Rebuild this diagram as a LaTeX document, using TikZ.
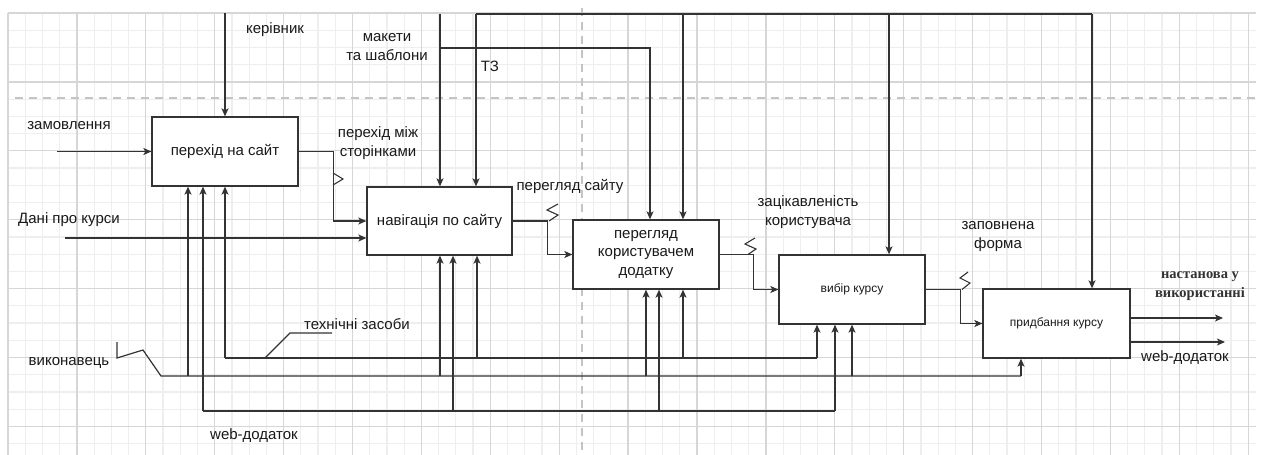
\documentclass[tikz,border=0pt]{standalone}
\usepackage{fontspec}
\setmainfont{Liberation Sans}
\newfontfamily\serifbold{Liberation Serif}
\usetikzlibrary{arrows.meta}
\definecolor{ln}{HTML}{333333}
\definecolor{txt}{HTML}{1A1A1A}
\definecolor{gmin}{HTML}{EEEEEE}
\definecolor{gmaj}{HTML}{D6D6D6}
\definecolor{dsh}{HTML}{C4C4C4}
\tikzset{
  gridminor/.style={draw=gmin, line width=1.2pt},
  gridmajor/.style={draw=gmaj, line width=1.3pt},
  guide/.style={draw=dsh, line width=2.6pt, dash pattern=on 8pt off 6pt},
  box/.style={draw=ln, line width=1.3pt, fill=white, minimum width=146pt, minimum height=69pt, inner sep=0pt, align=center, text=txt},
  conn/.style={draw=ln, line width=1.2pt},
  arr/.style={conn, -{Stealth[length=8pt,width=7pt,inset=2pt]}},
  thick arr/.style={arr, line width=1.8pt},
  lbl/.style={text=txt, inner sep=0pt, align=center},
  zig/.style={draw=ln, line width=1.1pt}
}
\begin{document}
\begin{tikzpicture}[x=1pt,y=-1pt,font=\fontsize{15}{19}\selectfont]
\useasboundingbox (0,0) rectangle (1261,455);
\fill[white] (0,0) rectangle (1261,455);
% grid
\foreach \i in {0,...,72}{\pgfmathsetmacro\xx{8+\i*17.225}\draw[gridminor] (\xx,13) -- (\xx,455);}
\foreach \j in {0,...,25}{\pgfmathsetmacro\yy{13+\j*17.225}\draw[gridminor] (8,\yy) -- (1256,\yy);}
\foreach \i in {0,...,18}{\pgfmathsetmacro\xx{8+\i*68.9}\draw[gridmajor] (\xx,13) -- (\xx,455);}
\foreach \j in {0,...,6}{\pgfmathsetmacro\yy{13+\j*68.9}\draw[gridmajor] (8,\yy) -- (1256,\yy);}
% guides
\draw[guide] (15,98) -- (1261,98);
\draw[guide] (582,8) -- (582,455);

% boxes
\node[box] (b1) at (225,151.5) {перехід на сайт};
\node[box, minimum width=145pt, minimum height=68pt] (b2) at (439.5,221) {навігація по сайту};
\node[box, font=\fontsize{15}{18.5}\selectfont] (b3) at (646,254.5) {перегляд\\користувачем\\додатку};
\node[box, font=\fontsize{12}{14}\selectfont] (b4) at (852,289.5) {вибір курсу};
\node[box, minimum width=147pt, font=\fontsize{12}{14}\selectfont] (b5) at (1056.5,323.5) {придбання курсу};

% free ends
\coordinate (k0) at (225,13);
\coordinate (z0) at (57,151.5);
\coordinate (d0) at (65,238);
\coordinate (m0) at (440,14);
\coordinate (m1) at (650,48);
\coordinate (t0) at (476,14);
\coordinate (t1) at (683,14);
\coordinate (t2) at (889,14);
\coordinate (t3) at (1092,14);
\coordinate (o1) at (1223,318);
\coordinate (o2) at (1225,342);
\coordinate (s1) at (225,358);
\coordinate (s2) at (817,358);
\coordinate (v0) at (117,342);
\coordinate (v1) at (161,376);
\coordinate (v2) at (1021,376);
\coordinate (w1) at (203,411);
\coordinate (w2) at (835,411);

% inputs
\draw[arr] (k0) -- (k0 |- b1.north);
\draw[arr] (z0) -- (b1.west);
\draw[arr] (d0) -- (d0 -| b2.west);

% flow between boxes
\draw[arr] (b1.east) -- ++(35,0) |- (b2.west);
\draw[zig] (333,173) -- (343,179) -- (333,185);
\draw[arr] (b2.east) -- ++(35,0) |- (b3.west);
\draw[zig] (558,204) -- (547,210) -- (558,215) -- (549,221);
\draw[arr] (b3.east) -- ++(34,0) |- (b4.west);
\draw[zig] (755,238) -- (745,244) -- (756,249) -- (748,254.5);
\draw[arr] (b4.east) -- ++(35,0) |- (b5.west);
\draw[zig] (968,272) -- (960,278) -- (970,283) -- (962,289.5);

% outputs
\draw[arr] (b5.east |- o1) -- (o1);
\draw[arr] (b5.east |- o2) -- (o2);

% controls
\draw[arr] (m0) -- (m0 |- b2.north);
\draw[arr] (m0 |- m1) -- (m1) -- (m1 |- b3.north);
\draw[arr] (t0) -- (t0 |- b2.north);
\draw[conn] (t0) -- (t3);
\draw[arr] (t1) -- (t1 |- b3.north);
\draw[arr] (t2) -- (t2 |- b4.north);
\draw[arr] (t3) -- (t3 |- b5.north);

% mechanisms: технічні засоби
\draw[conn] (s1) -- (s2);
\draw[arr] (s1) -- (s1 |- b1.south);
\draw[arr] (477,358) -- (477,0 |- b2.south);
\draw[arr] (683,358) -- (683,0 |- b3.south);
\draw[arr] (s2) -- (s2 |- b4.south);
\draw[conn] (265,358) -- (290,333) -- (332,333);

% mechanisms: виконавець
\draw[conn] (v0) -- (117,358) -- (143,350) -- (v1) -- (v2);
\draw[arr] (188,376) -- (188,0 |- b1.south);
\draw[arr] (440,376) -- (440,0 |- b2.south);
\draw[arr] (646,376) -- (646,0 |- b3.south);
\draw[arr] (852,376) -- (852,0 |- b4.south);
\draw[arr] (v2) -- (v2 |- b5.south);

% mechanisms: web-додаток
\draw[conn] (w1) -- (w2);
\draw[arr] (w1) -- (w1 |- b1.south);
\draw[thick arr] (453,411) -- (453,0 |- b2.south);
\draw[thick arr] (659,411) -- (659,0 |- b3.south);
\draw[arr] (w2) -- (w2 |- b4.south);

% labels
\node[lbl] (lk) at (275,30) {керівник};
\node[lbl] (lz) at (69,126) {замовлення};
\node[lbl] (ld) at (69,220) {Дані про курси};
\node[lbl] (lm) at (387,47.5) {макети\\та шаблони};
\node[lbl] (lt) at (490,66) {ТЗ};
\node[lbl] (lp) at (378,143.5) {перехід між\\сторінками};
\node[lbl] (ls) at (570,186) {перегляд сайту};
\node[lbl] (lzk) at (808,212) {зацікавленість\\користувача};
\node[lbl] (lf) at (998,236.5) {заповнена\\форма};
\node[lbl, font=\serifbold\bfseries\fontsize{14.5}{19}\selectfont, text=ln] (ln1) at (1200,286.5) {настанова у\\використанні};
\node[lbl] (lw1) at (1185,358) {web-додаток};
\node[lbl] (lts) at (357,324) {технічні засоби};
\node[lbl] (lv) at (69,363) {виконавець};
\node[lbl] (lw2) at (254,436) {web-додаток};
\end{tikzpicture}
\end{document}
